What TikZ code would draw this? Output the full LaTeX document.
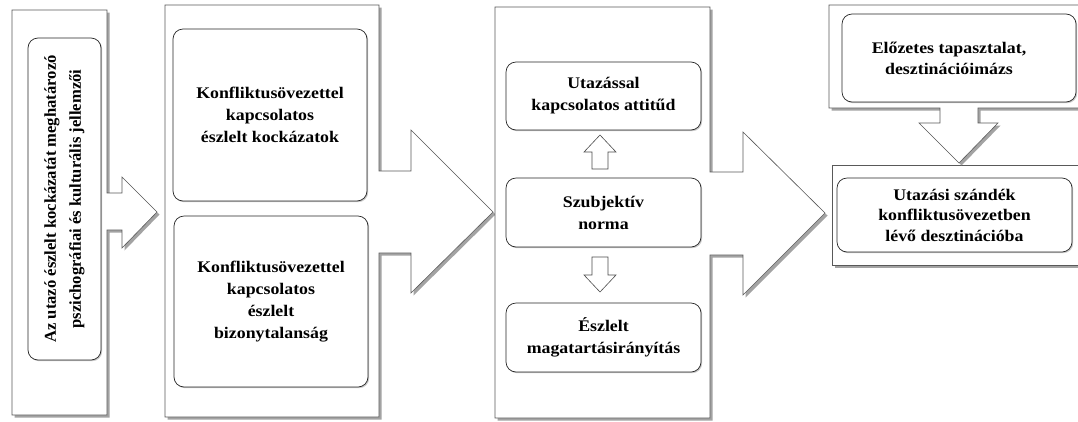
\documentclass[tikz,border=0pt]{standalone}
\usepackage{fontspec}
\setmainfont{Liberation Serif}
\newfontfamily\hfont{Liberation Serif}[FakeStretch=1.1]
\usetikzlibrary{shadows}
\tikzset{
  panel/.style={draw=black!65, line width=0.6pt, fill=white,
    drop shadow={shadow xshift=2.5pt, shadow yshift=-2.5pt, fill=black!45, opacity=0.8}},
  ibox/.style={draw=black!85, line width=0.7pt, fill=white, rounded corners=10pt,
    inner sep=2pt, align=center, font=\hfont\bfseries\fontsize{16.2}{22}\selectfont,
    drop shadow={shadow xshift=1.2pt, shadow yshift=-1.2pt, fill=black!30, opacity=0.7}},
  txt/.style={align=center, font=\hfont\bfseries\fontsize{16.2}{21}\selectfont},
  blockarrow/.style={draw=black!70, line width=0.6pt, fill=white}
}
\begin{document}
\begin{tikzpicture}[x=1pt,y=-1pt]
\useasboundingbox (0,0) rectangle (1078,421);
\clip (0,0) rectangle (1078,421);
\fill[white] (0,0) rectangle (1078,421);

% panel 1
\path[panel] (12,10) -- (107,10) -- (107,193) -- (122,193) -- (122,177) -- (157,212)
  -- (122,248) -- (122,230) -- (107,230) -- (107,415) -- (12,415) -- cycle;
% panel 2
\path[panel] (165,5) -- (379,5) -- (379,171) -- (411,171) -- (411,130) -- (493,212)
  -- (411,293) -- (411,253) -- (379,253) -- (379,417) -- (165,417) -- cycle;
% panel 3
\path[panel] (495,7) -- (710,7) -- (710,172) -- (743,172) -- (743,132) -- (825,213)
  -- (743,295) -- (743,255) -- (710,255) -- (710,418) -- (495,418) -- cycle;
% panel 5 (bottom right)
\path[panel] (832,165) -- (1090,165) -- (1090,265) -- (832,265) -- cycle;
% panel 4 (top right, down arrow)
\path[panel] (829,5) -- (1090,5) -- (1090,108) -- (978,108) -- (978,123) -- (998,123)
  -- (959,163) -- (919,123) -- (940,123) -- (940,108) -- (829,108) -- cycle;

% inner boxes
\node[ibox, rotate=90, minimum width=322, minimum height=73,
  font=\bfseries\fontsize{16.6}{25}\selectfont] (b1) at (64.5,199)
  {Az utazó észlelt kockázatát meghatározó\\pszichográfiai és kulturális jellemzői};

\node[ibox, minimum width=194, minimum height=172] (b2a) at (270,115)
  {Konfliktusövezettel\\kapcsolatos\\észlelt kockázatok};
\node[ibox, minimum width=194, minimum height=171] (b2b) at (271,301.5)
  {Konfliktusövezettel\\kapcsolatos\\észlelt\\bizonytalanság};

\node[ibox, minimum width=195, minimum height=68] (b3a) at (603.5,96)
  {Utazással\\kapcsolatos attitűd};
\node[ibox, minimum width=195, minimum height=69] (b3b) at (603.5,212.5)
  {Szubjektív\\norma};
\node[ibox, minimum width=195, minimum height=69] (b3c) at (603.5,337.5)
  {Észlelt\\magatartásirányítás};

\node[ibox, minimum width=234, minimum height=88] (b4) at (959,58) {};
\node[txt] (t4) at (949,58) {Előzetes tapasztalat,\\desztinációimázs};

\node[ibox, minimum width=235, minimum height=74, font=\hfont\bfseries\fontsize{16.2}{20.5}\selectfont] (b5) at (954.5,215)
  {Utazási szándék\\konfliktusövezetben\\lévő desztinációba};

% small block arrows in panel 3
\path[blockarrow] (592,169) -- (592,152) -- (584,152) -- (600,135) -- (616,152)
  -- (608,152) -- (608,169) -- cycle;
\path[blockarrow] (592,257) -- (592,275) -- (584,275) -- (600,292) -- (616,275)
  -- (608,275) -- (608,257) -- cycle;
\end{tikzpicture}
\end{document}
